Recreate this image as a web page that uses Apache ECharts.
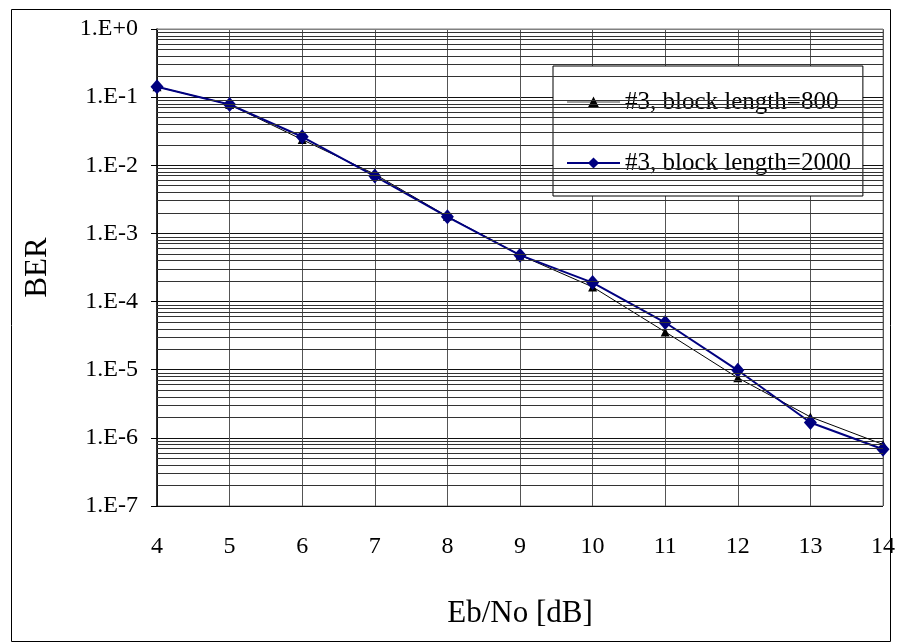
<!DOCTYPE html>
<html>
<head>
<meta charset="utf-8">
<script src="https://cdn.jsdelivr.net/npm/echarts@6/dist/echarts.min.js"></script>
<style>html,body{margin:0;padding:0;background:#fff}#c{width:898px;height:642px}</style>
</head>
<body>
<div id="c"></div>
<script>
const xValues = [4, 5, 6, 7, 8, 9, 10, 11, 12, 13, 14];
const ber800 = [0.142, 0.078, 0.0238, 0.0074, 0.00178, 0.00048, 0.000164, 0.0000359, 0.0000076, 0.00000203, 0.00000080];
const ber2000 = [0.142, 0.078, 0.0262, 0.00694, 0.00175, 0.00048, 0.00019, 0.0000493, 0.0000098, 0.00000168, 0.00000068];
const seriesNames = ['#3, block length=800', '#3, block length=2000'];
const xTitle = 'Eb/No [dB]';
const yTitle = 'BER';

const FONT = '"Liberation Serif", "Times New Roman", serif';
// minor grid positions (log10 of 2..9 × each decade), drawn on a hidden linear axis
const minorLines = [];
for (let d = 1; d <= 7; d++) {
  for (let k = 2; k <= 9; k++) minorLines.push({ yAxis: Math.log10(k) - d });
}

const chart = echarts.init(document.getElementById('c'), null, { renderer: 'canvas' });
chart.setOption({
  animation: false,
  backgroundColor: '#fff',
  textStyle: { fontFamily: FONT, color: '#000' },
  graphic: [{
    type: 'rect', left: 9, top: 7, shape: { width: 879, height: 632 },
    style: { fill: 'none', stroke: '#000', lineWidth: 1 }, silent: true, z: -1
  }],
  grid: { left: 157, top: 29, width: 726, height: 477, show: true, borderColor: '#808080', borderWidth: 1 },
  legend: {
    orient: 'vertical', left: 553, top: 66,
    padding: [22, 12, 19, 13], itemGap: 33, itemWidth: 53, itemHeight: 14,
    backgroundColor: '#fff', borderColor: '#000', borderWidth: 1,
    textStyle: { fontFamily: FONT, fontSize: 25, color: '#000', lineHeight: 28 },
    data: [
      { name: seriesNames[0], lineStyle: { color: '#808080', width: 1.5 } },
      { name: seriesNames[1] }
    ]
  },
  xAxis: {
    type: 'value', min: 4, max: 14, interval: 1,
    name: xTitle, nameLocation: 'middle', nameGap: 92,
    nameTextStyle: { fontFamily: FONT, fontSize: 31, color: '#000' },
    axisLine: { show: true, lineStyle: { color: '#808080' } },
    axisTick: { show: false },
    axisLabel: { fontFamily: FONT, fontSize: 24, color: '#000', margin: 29 },
    splitLine: { show: true, lineStyle: { color: '#555', width: 1 } }
  },
  yAxis: [{
    type: 'log', logBase: 10, min: 1e-7, max: 1,
    name: yTitle, nameLocation: 'middle', nameGap: 104, nameRotate: 90,
    nameTextStyle: { fontFamily: FONT, fontSize: 31, color: '#000' },
    axisLine: { show: true, lineStyle: { color: '#000', width: 1.5 } },
    axisTick: { show: true, inside: false, length: 6, lineStyle: { color: '#000' } },
    axisLabel: {
      fontFamily: FONT, fontSize: 24, color: '#000', margin: 19,
      formatter: function (v) {
        const e = Math.round(Math.log10(v));
        return '1.E' + (e >= 0 ? '+' : '') + e;
      }
    },
    splitLine: { show: true, lineStyle: { color: '#111', width: 1 } }
  }, {
    type: 'value', min: -7, max: 0, show: false,
    splitLine: { show: false }
  }],
  series: [
    {
      name: 'grid-minor', type: 'line', data: [], silent: true, yAxisIndex: 1,
      markLine: {
        silent: true, symbol: 'none', animation: false,
        label: { show: false },
        lineStyle: { color: '#333', width: 1, type: 'solid' },
        data: minorLines
      }
    },
    {
      name: seriesNames[0], type: 'line',
      data: xValues.map((x, i) => [x, ber800[i]]),
      symbol: 'triangle', symbolSize: 9,
      lineStyle: { color: '#000', width: 1 },
      itemStyle: { color: '#000' },
      z: 3
    },
    {
      name: seriesNames[1], type: 'line',
      data: xValues.map((x, i) => [x, ber2000[i]]),
      symbol: 'diamond', symbolSize: [13, 15],
      lineStyle: { color: '#000080', width: 2 },
      itemStyle: { color: '#000080' },
      z: 4
    }
  ]
});
</script>
</body>
</html>
